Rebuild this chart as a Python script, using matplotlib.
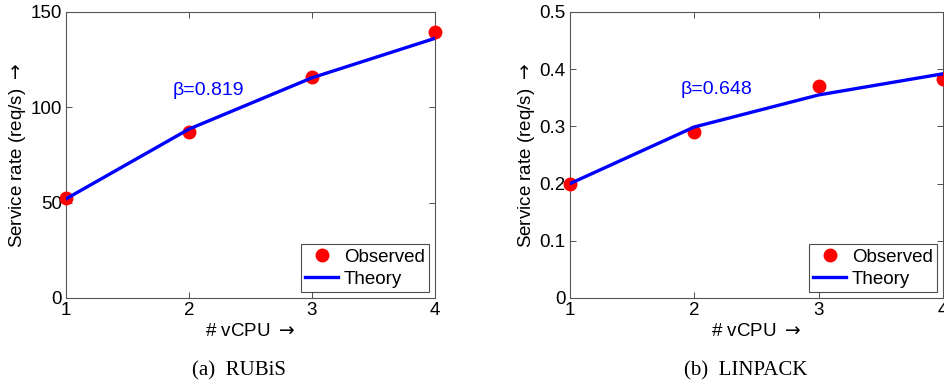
import matplotlib
matplotlib.use("Agg")
import matplotlib.pyplot as plt

vcpu = [1, 2, 3, 4]
rubis_obs = [52.3, 87.2, 115.9, 139.7]
rubis_theory = [52.0, 88.6, 115.5, 136.2]
linpack_obs = [0.200, 0.290, 0.370, 0.383]
linpack_theory = [0.200, 0.299, 0.355, 0.392]
rubis_beta = "β=0.819"
linpack_beta = "β=0.648"
rubis_yticks = [0, 50, 100, 150]
linpack_yticks = [0, 0.1, 0.2, 0.3, 0.4, 0.5]

sans = ["Liberation Sans", "DejaVu Sans"]
serif = ["Liberation Serif", "DejaVu Serif"]
plt.rcParams['font.family'] = sans
plt.rcParams['mathtext.fontset'] = 'dejavusans'

fig = plt.figure(figsize=(9.44, 3.84), dpi=100)
ax1 = fig.add_axes([66/944, 86/384, 369/944, 286/384])
ax2 = fig.add_axes([570/944, 86/384, 373/944, 286/384])

FS = 13.5

def style(ax, obs, th, yticks, ylim, beta, bx, by, caption):
    ax.plot(vcpu, obs, 'o', color='#ff0000', markersize=9, label='Observed', zorder=3, clip_on=False)
    ax.plot(vcpu, th, '-', color='#0000ff', linewidth=2.4, label='Theory', zorder=4)
    ax.set_xlim(1, 4)
    ax.set_ylim(*ylim)
    ax.set_xticks(vcpu)
    ax.set_yticks(yticks)
    ax.set_yticklabels([f"{t:g}" for t in yticks])
    ax.tick_params(direction='in', top=True, right=True, labelsize=FS, length=4, width=0.6, color='#333333', pad=3)
    for s in ax.spines.values():
        s.set_color('#555555')
        s.set_linewidth(0.8)
    ax.set_xlabel(r'# vCPU $\rightarrow$', fontsize=FS, labelpad=3)
    ax.set_ylabel(r'Service rate (req/s) $\rightarrow$', fontsize=FS, labelpad=2)
    ax.text(bx, by, beta, color='#0000ff', fontsize=14, va='center', ha='left')
    leg = ax.legend(loc='lower right', fontsize=FS, frameon=True, fancybox=False,
                    edgecolor='#222222', borderaxespad=0.3, handlelength=1.75,
                    borderpad=0.25, labelspacing=0.25, handletextpad=0.3)
    leg.get_frame().set_linewidth(0.8)
    ax.text(0.47, -0.255, caption, transform=ax.transAxes, ha='center', va='center',
            fontsize=15, family=serif)

style(ax1, rubis_obs, rubis_theory, rubis_yticks, (0, 150), rubis_beta, 1.87, 109, '(a)  RUBiS')
style(ax2, linpack_obs, linpack_theory, linpack_yticks, (0, 0.5), linpack_beta, 1.89, 0.364, '(b)  LINPACK')

fig.savefig('out.png', dpi=100)
